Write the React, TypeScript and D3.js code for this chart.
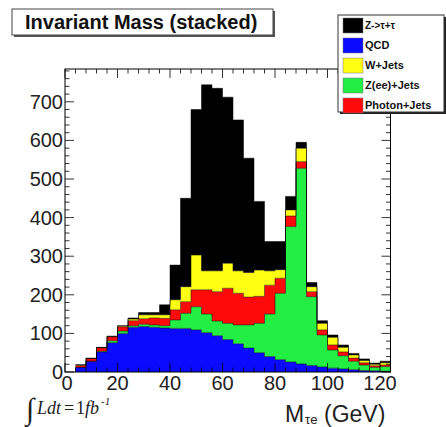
import React from 'react';
import * as d3 from 'd3';

// Invariant mass histogram, 4 GeV bins (lower bin edges in GeV)
const binStarts = [4, 8, 12, 16, 20, 24, 28, 32, 36, 40, 44, 48, 52, 56, 60, 64, 68, 72, 76, 80, 84, 88, 92, 96, 100, 104, 108, 112, 116, 120];
const binWidth = 4;

// Events per bin for each sample (stacked bottom to top)
const qcd = [12, 28, 52, 76, 100, 116, 118, 116, 114, 113, 113, 109, 102, 94, 84, 73, 62, 50, 40, 32, 26, 21, 17, 13, 10, 8, 6, 4, 3, 2];
const zeeJets = [0, 0, 2, 5, 6, 4, 6, 6, 6, 22, 39, 60, 48, 38, 42, 49, 60, 76, 110, 172, 351, 507, 178, 83, 47, 34, 22, 14, 9, 12];
const photonJets = [5, 7, 9, 10, 11, 13, 14, 18, 19, 26, 30, 44, 63, 76, 91, 82, 72, 70, 75, 39, 27, 17, 13, 13, 13, 10, 8, 6, 4, 4];
const wJets = [1, 0, 0, 1, 2, 4, 10, 8, 9, 26, 39, 90, 49, 54, 65, 58, 64, 68, 37, 22, 16, 35, 13, 17, 20, 12, 8, 6, 4, 6];
const zTauTau = [1, 1, 1, 1, 1, 3, 6, 6, 26, 90, 229, 377, 482, 473, 430, 391, 296, 178, 76, 73, 35, 15, 11, 7, 6, 6, 4, 4, 3, 4];

const stackKeys = ['QCD', 'Z(ee)+Jets', 'Photon+Jets', 'W+Jets', 'Z->τ+τ'];
const stackColors = ['#0a0aff', '#22ee44', '#ff0a0a', '#ffff14', '#000000'];
const legendKeys = ['Z->τ+τ', 'QCD', 'W+Jets', 'Z(ee)+Jets', 'Photon+Jets'];

const xTickLabels = [0, 20, 40, 60, 80, 100, 120];
const yTickLabels = [0, 100, 200, 300, 400, 500, 600, 700];

const W = 446;
const H = 427;
const frame = { left: 65, right: 390.5, top: 69, bottom: 372 };
const FONT = 'Liberation Sans, Arial, Helvetica, sans-serif';
const SERIF = 'Liberation Serif, Times New Roman, serif';

export default function App() {
  const x = d3.scaleLinear().domain([0, 124]).range([frame.left, frame.right]);
  const y = d3.scaleLinear().domain([0, 785]).range([frame.bottom, frame.top]);

  const valuesByKey: Record<string, number[]> = {
    'QCD': qcd,
    'Z(ee)+Jets': zeeJets,
    'Photon+Jets': photonJets,
    'W+Jets': wJets,
    'Z->τ+τ': zTauTau,
  };

  const rows = binStarts.map((b, i) => {
    const r: any = { x: b };
    stackKeys.forEach((k) => (r[k] = valuesByKey[k][i]));
    return r;
  });

  const stacked = d3.stack<any>().keys(stackKeys)(rows);

  const layers = stacked.map((s, li) => {
    const pts = s.map((d) => ({ x: d.data.x, lo: d[0], hi: d[1] }));
    const last = pts[pts.length - 1];
    pts.push({ x: last.x + binWidth, lo: last.lo, hi: last.hi });
    const area = d3
      .area<any>()
      .x((d) => x(d.x))
      .y0((d) => y(d.lo))
      .y1((d) => y(d.hi))
      .curve(d3.curveStepAfter)(pts);
    const line = d3
      .line<any>()
      .x((d) => x(d.x))
      .y((d) => y(d.hi))
      .curve(d3.curveStepAfter)(pts);
    return { key: stackKeys[li], color: stackColors[li], area, line };
  });

  const xMinor = d3.range(0, 124.01, 4);
  const yMinor = d3.range(0, 785, 20);
  const major = 9;
  const minor = 4.5;

  const legend = { x: 338, y: 15, w: 106, h: 97, rowH: 20 };

  return (
    <svg
      width={W}
      height={H}
      style={{ position: 'absolute', left: 0, top: 0, background: '#fff' }}
      fontFamily={FONT}
    >
      <rect x={0} y={0} width={W} height={H} fill="#fff" />

      {/* stacked histogram layers */}
      {layers.map((l) => (
        <path key={l.key} d={l.area || ''} fill={l.color} />
      ))}
      {layers.map((l) => (
        <path key={l.key + '-edge'} d={l.line || ''} fill="none" stroke="#000" strokeWidth={0.7} strokeOpacity={0.7} />
      ))}

      {/* frame */}
      <rect
        x={frame.left}
        y={frame.top}
        width={frame.right - frame.left}
        height={frame.bottom - frame.top}
        fill="none"
        stroke="#000"
        strokeWidth={1}
      />

      {/* x ticks, bottom and top */}
      {xMinor.map((v) => {
        const isMajor = v % 20 === 0;
        const len = isMajor ? major : minor;
        return (
          <g key={'xt' + v} stroke="#000" strokeWidth={0.8}>
            <line x1={x(v)} x2={x(v)} y1={frame.bottom} y2={frame.bottom - len} />
            <line x1={x(v)} x2={x(v)} y1={frame.top} y2={frame.top + len} />
          </g>
        );
      })}
      {/* y ticks, left and right */}
      {yMinor.map((v) => {
        const isMajor = v % 100 === 0;
        const len = isMajor ? major : minor;
        return (
          <g key={'yt' + v} stroke="#000" strokeWidth={0.8}>
            <line x1={frame.left} x2={frame.left + len} y1={y(v)} y2={y(v)} />
            <line x1={frame.right} x2={frame.right - len} y1={y(v)} y2={y(v)} />
          </g>
        );
      })}

      {/* tick labels */}
      {xTickLabels.map((v) => (
        <text key={'xl' + v} x={x(v) + (v === 0 ? 2 : 0)} y={390} textAnchor="middle" fontSize={20} fill="#222">
          {v}
        </text>
      ))}
      {yTickLabels.map((v) => (
        <text key={'yl' + v} x={63} y={y(v) + 7} textAnchor="end" fontSize={20} fill="#222">
          {v}
        </text>
      ))}

      {/* axis title */}
      <text x={285} y={422} fontSize={23} fill="#222">M</text>
      <text x={305} y={424} fontSize={13} fill="#222">τe</text>
      <text x={324} y={422} fontSize={23} fill="#222">(GeV)</text>

      {/* integrated luminosity */}
      <text x={26} y={419} fontSize={30} fontFamily={SERIF} fill="#222">∫</text>
      <text x={37} y={414} fontSize={18} fontStyle="italic" fontFamily={SERIF} fill="#222">Ldt</text>
      <text x={64} y={414} fontSize={18} fontFamily={SERIF} fill="#222">=</text>
      <text x={76} y={414} fontSize={18} fontFamily={SERIF} fill="#222">1</text>
      <text x={85} y={414} fontSize={18} fontStyle="italic" fontFamily={SERIF} fill="#222">fb</text>
      <text x={101} y={405} fontSize={11} fontStyle="italic" fontFamily={SERIF} fill="#222">-1</text>

      {/* title box */}
      <rect x={14} y={11} width={261} height={26} fill="#555" />
      <rect x={12} y={9} width={261} height={26} fill="#fff" stroke="#444" strokeWidth={1} />
      <text x={25} y={29} fontSize={20} fontWeight="bold" fill="#111">
        Invariant Mass (stacked)
      </text>

      {/* legend */}
      <rect x={legend.x + 2} y={legend.y + 2} width={legend.w} height={legend.h} fill="#222" />
      <rect x={legend.x} y={legend.y} width={legend.w} height={legend.h} fill="#fff" stroke="#333" strokeWidth={1} />
      {legendKeys.map((k, i) => {
        const color = stackColors[stackKeys.indexOf(k)];
        const cy = legend.y + 10 + i * legend.rowH;
        return (
          <g key={'lg' + k}>
            <rect x={343} y={cy - 7} width={20} height={15} fill={color} stroke="#777" strokeWidth={0.5} />
            <text x={365} y={cy + 4} fontSize={k === 'Z->τ+τ' ? 10 : 11} fontWeight="bold" fill="#111">
              {k}
            </text>
          </g>
        );
      })}
    </svg>
  );
}
